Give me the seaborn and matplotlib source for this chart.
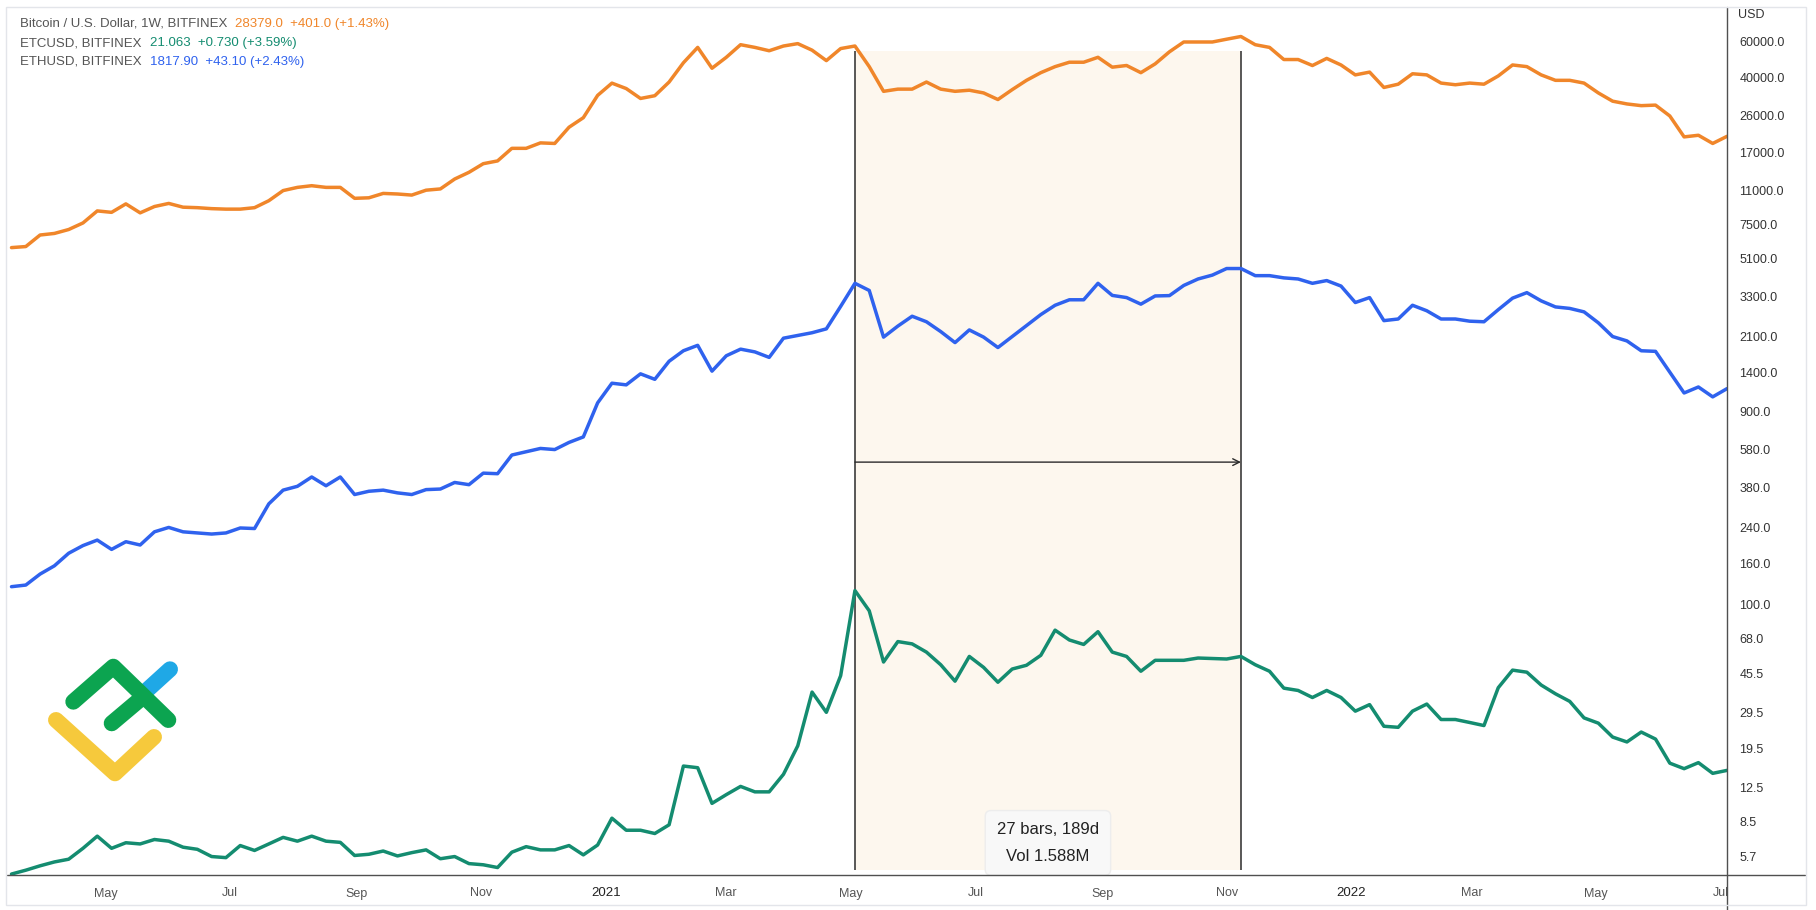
import matplotlib
matplotlib.use("Agg")
import matplotlib.pyplot as plt
import matplotlib.dates as mdates
import matplotlib.transforms as mtransforms
from matplotlib.lines import Line2D
from matplotlib.patches import Rectangle
import seaborn as sns
import pandas as pd

# --- weekly closes (bar open dates, Mondays) ---
first_week = "2020-03-16"
n_weeks = 121

btc = [5780, 5850, 6670, 6790, 7100, 7650, 8770, 8630, 9500, 8580,
       9220, 9550, 9150, 9100, 9000, 8950, 8950, 9100, 9850, 11050,
       11460, 11680, 11460, 11460, 10120, 10180, 10700, 10630, 10500, 11100,
       11260, 12600, 13600, 15000, 15480, 17860, 17860, 19000, 18880, 22700,
       25300, 32600, 37470, 35230, 31480, 32480, 37940, 47220, 56240, 44380,
       50250, 57990, 56240, 54140, 57130, 58700, 54490, 48400, 55500, 57130,
       45200, 34140, 35000, 35000, 37940, 35000, 34140, 34570, 33520, 31100,
       34800, 38680, 42200, 45200, 47520, 47520, 50250, 44920, 45780, 42200,
       46640, 53500, 59800, 59800, 59800, 61730, 63660, 57990, 56240, 49000,
       49000, 45770, 49620, 46060, 41150, 42470, 35670, 37020, 41680, 41150,
       37490, 36790, 37490, 37020, 40660, 46060, 45200, 41150, 38680, 38680,
       37490, 33520, 30520, 29580, 29010, 29190, 25800, 20340, 20720, 18880,
       20470]

eth = [122.6, 124.9, 141.5, 155.4, 179.3, 195.6, 208.2, 187.3, 204.4, 196.9,
       228.7, 240.4, 228.7, 225.8, 223.0, 225.8, 238.9, 237.4, 314.3, 367.3,
       383.6, 426.5, 386.1, 426.5, 349.4, 362.6, 367.3, 356.0, 349.4, 369.5,
       371.9, 400.7, 390.8, 445.5, 442.7, 547.3, 568.2, 589.8, 582.5, 631.7,
       672.4, 990, 1238, 1215, 1377, 1294, 1589, 1790, 1904, 1420,
       1691, 1823, 1767, 1660, 2065, 2130, 2197, 2296, 2964, 3852,
       3552, 2090, 2369, 2650, 2489, 2226, 1964, 2268, 2090, 1857,
       2104, 2383, 2700, 3002, 3195, 3195, 3852, 3358, 3276, 3040,
       3337, 3350, 3760, 4047, 4229, 4557, 4557, 4203, 4203, 4098,
       4047, 3852, 3974, 3734, 3097, 3276, 2521, 2568, 3002, 2820,
       2568, 2568, 2505, 2489, 2855, 3255, 3465, 3156, 2946, 2896,
       2785, 2459, 2104, 2002, 1790, 1778, 1403, 1108, 1186, 1060,
       1164]

etc = [4.68, 4.89, 5.14, 5.37, 5.54, 6.27, 7.20, 6.27, 6.68, 6.59,
       6.93, 6.80, 6.35, 6.20, 5.71, 5.64, 6.47, 6.12, 6.59, 7.10,
       6.80, 7.20, 6.80, 6.71, 5.78, 5.86, 6.08, 5.75, 5.97, 6.16,
       5.57, 5.71, 5.27, 5.20, 5.04, 6.00, 6.39, 6.16, 6.16, 6.47,
       5.82, 6.51, 8.83, 7.70, 7.70, 7.42, 8.19, 15.97, 15.67, 10.45,
       11.54, 12.67, 11.91, 11.91, 14.54, 20.10, 37.0, 29.4, 44.6, 117.3,
       93.2, 52.1, 65.7, 64.0, 58.3, 50.5, 41.9, 55.5, 49.0, 41.4,
       48.1, 50.2, 56.2, 74.8, 66.9, 63.6, 73.5, 58.3, 55.5, 46.9,
       53.1, 53.1, 53.1, 54.5, 54.2, 53.9, 55.5, 50.5, 46.9, 38.7,
       37.7, 34.8, 37.7, 34.8, 29.8, 32.1, 25.1, 24.8, 29.8, 32.3,
       27.1, 27.1, 26.2, 25.3, 38.9, 47.5, 46.4, 40.1, 36.3, 33.3,
       27.6, 26.0, 22.2, 21.0, 23.5, 21.7, 16.5, 15.5, 16.6, 14.7,
       15.2]

symbols = ["BTCUSD", "ETHUSD", "ETCUSD"]
colors = {"BTCUSD": "#F0862A", "ETHUSD": "#2F62EE", "ETCUSD": "#148C70"}

price_ticks = [60000, 40000, 26000, 17000, 11000, 7500, 5100, 3300, 2100, 1400,
               900, 580, 380, 240, 160, 100, 68, 45.5, 29.5, 19.5, 12.5, 8.5, 5.7]
time_ticks = ["2020-05-01", "2020-07-01", "2020-09-01", "2020-11-01", "2021-01-01",
              "2021-03-01", "2021-05-01", "2021-07-01", "2021-09-01", "2021-11-01",
              "2022-01-01", "2022-03-01", "2022-05-01", "2022-07-01"]
time_labels = ["May", "Jul", "Sep", "Nov", "2021", "Mar", "May", "Jul", "Sep", "Nov",
               "2022", "Mar", "May", "Jul"]

# date range tool: from bar 59 to bar 86 (27 bars)
range_start, range_end = 59, 86
range_top, range_bottom, arrow_level = 54000, 4.9, 505
range_text = "27 bars, 189d\nVol 1.588M"

legend_rows = [
    ("Bitcoin / U.S. Dollar, 1W, BITFINEX", "28379.0  +401.0 (+1.43%)", "BTCUSD"),
    ("ETCUSD, BITFINEX", "21.063  +0.730 (+3.59%)", "ETCUSD"),
    ("ETHUSD, BITFINEX", "1817.90  +43.10 (+2.43%)", "ETHUSD"),
]

# --- build long table ---
dates = pd.date_range(first_week, periods=n_weeks, freq="W-MON")
df = pd.concat([
    pd.DataFrame({"date": dates, "price": btc, "symbol": "BTCUSD"}),
    pd.DataFrame({"date": dates, "price": eth, "symbol": "ETHUSD"}),
    pd.DataFrame({"date": dates, "price": etc, "symbol": "ETCUSD"}),
])

sns.set_style("white")
plt.rcParams["font.family"] = ["Liberation Sans", "DejaVu Sans"]

W, H = 1816, 910
fig = plt.figure(figsize=(W / 100, H / 100), dpi=100)
px = mtransforms.Affine2D().scale(1 / W, -1 / H).translate(0, 1) + fig.transFigure

ax = fig.add_axes([7 / W, 35 / H, 1720 / W, 867 / H])
ax.set_facecolor("white")

d0 = mdates.date2num(dates[0])
d1 = mdates.date2num(dates[-1])
ds = mdates.date2num(dates[range_start])
de = mdates.date2num(dates[range_end])

# shaded range + lines
ax.fill_between([dates[range_start], dates[range_end]], range_bottom, range_top,
                color="#FDF7EE", lw=0, zorder=0)
ax.vlines([dates[range_start], dates[range_end]], range_bottom, range_top,
          colors="#2b2b2b", lw=1.1, zorder=1)
ax.annotate("", xy=(de, arrow_level), xytext=(ds, arrow_level),
            arrowprops=dict(arrowstyle="->", lw=1.0, color="#2b2b2b",
                            shrinkA=0, shrinkB=0, mutation_scale=12), zorder=1)

sns.lineplot(data=df, x="date", y="price", hue="symbol", hue_order=symbols,
             palette=colors, linewidth=2.5, legend=False, ax=ax, zorder=3)

ax.set_yscale("log")
ax.set_ylim(4.63, 88000)
ax.set_xlim(d0 - 2.2, d1)
ax.yaxis.set_minor_locator(matplotlib.ticker.NullLocator())
ax.set_yticks(price_ticks)
ax.set_yticklabels([f"{v:.1f}" for v in price_ticks])
ax.yaxis.tick_right()
ax.tick_params(axis="y", length=0, pad=9, labelsize=9, labelcolor="#333333")
ax.set_xticks(mdates.date2num(pd.to_datetime(time_ticks)))
ax.set_xticklabels(time_labels)
ax.tick_params(axis="x", length=0, pad=9, labelsize=9, labelcolor="#555555")
for lab in ax.get_xticklabels():
    if lab.get_text().isdigit():
        lab.set_color("#222222")
        lab.set_fontsize(9.5)
ax.set_xlabel("")
ax.set_ylabel("")
for s in ax.spines.values():
    s.set_visible(False)
ax.grid(False)

# measurement box
mid = (ds + de) / 2
ax.text(mid, 0.037, range_text, transform=mtransforms.blended_transform_factory(ax.transData, ax.transAxes),
        ha="center", va="center", fontsize=12, color="#222222", linespacing=1.95, zorder=5,
        bbox=dict(boxstyle="round,pad=0.7,rounding_size=0.35", fc="#F8F8F8", ec="#EDEDED", lw=1))

# cover overflow of the last time label under the price scale
fig.add_artist(Rectangle((1728, 876), 77, 28, transform=px, fc="white", ec="none", zorder=3))
# axis lines and outer frame
fig.add_artist(Line2D([7, 1805], [875, 875], transform=px, color="#505050", lw=1, zorder=4))
fig.add_artist(Line2D([1727, 1727], [7, 910], transform=px, color="#505050", lw=1, zorder=4))
fig.add_artist(Rectangle((6, 7), 1800, 898, transform=px, fill=False, ec="#E3E5EA", lw=1, zorder=4))

fig.text(1738, 15, "USD", transform=px, fontsize=9, color="#333333", va="center", ha="left")

# legend rows top-left: values placed right after the measured name
renderer = fig.canvas.get_renderer()
for i, (name, vals, sym) in enumerate(legend_rows):
    y = 24 + 19 * i
    t = fig.text(20, y, name, transform=px, fontsize=9.5, color="#555555", va="center", ha="left")
    x_end = t.get_window_extent(renderer).x1
    fig.text(x_end + 8, y, vals, transform=px, fontsize=9.5, color=colors[sym], va="center", ha="left")

# logo
logo_w = 11.5
fig.add_artist(Line2D([141.7, 170], [695, 669.3], transform=px, color="#1FA8E6", lw=logo_w,
                      solid_capstyle="round", zorder=5))
fig.add_artist(Line2D([56, 115, 154], [720, 773.3, 737], transform=px, color="#F6C93C",
                      lw=logo_w, solid_capstyle="round", solid_joinstyle="round", zorder=5))
fig.add_artist(Line2D([73.3, 113.3, 168.3], [701.7, 666.7, 720], transform=px, color="#0CA450",
                      lw=logo_w, solid_capstyle="round", solid_joinstyle="round", zorder=6))
fig.add_artist(Line2D([111.7, 143.5], [723.3, 696.5], transform=px, color="#0CA450",
                      lw=logo_w, solid_capstyle="round", zorder=6))

fig.savefig("out.png", dpi=100, facecolor="white")
